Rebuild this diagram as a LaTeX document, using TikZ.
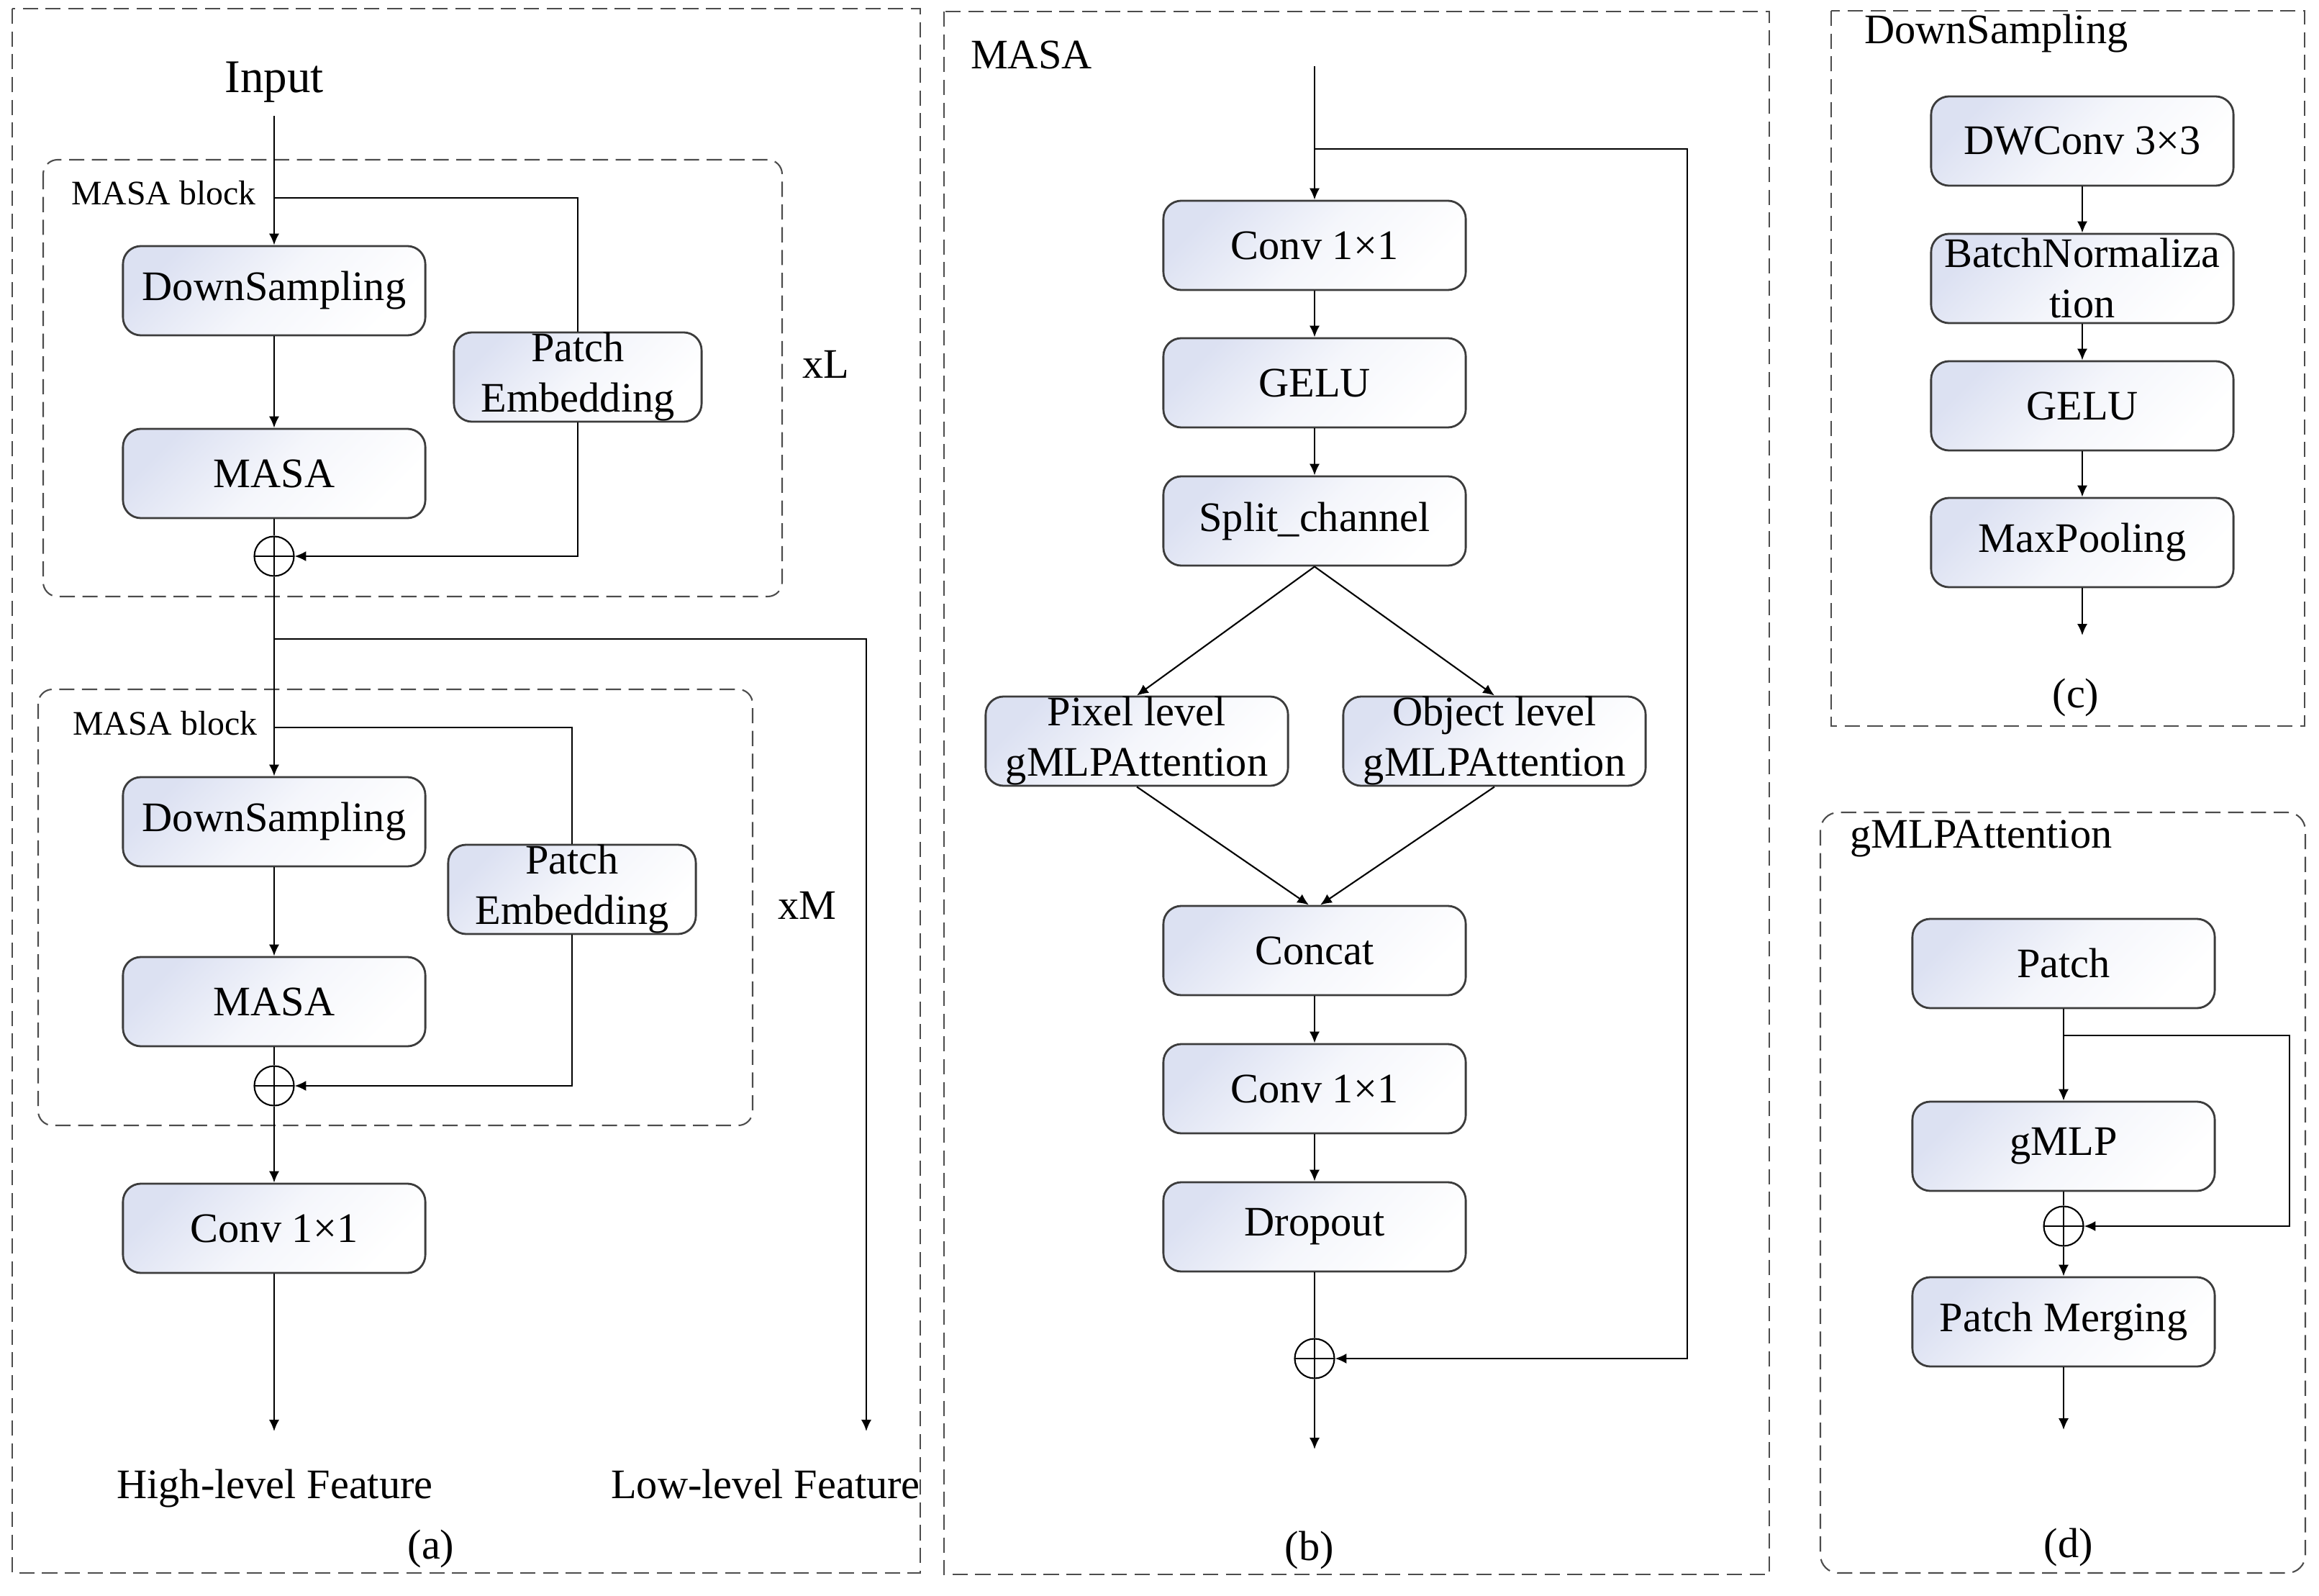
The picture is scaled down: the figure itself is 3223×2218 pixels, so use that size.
\documentclass[tikz,border=0pt]{standalone}
\usepackage{fontspec}
\setmainfont{Liberation Serif}
\usetikzlibrary{arrows.meta}
\definecolor{boxblue}{RGB}{220,225,242}
\definecolor{boxline}{RGB}{60,60,60}
\newcommand\boxtext{\fontsize{16.6}{19.9}\selectfont}
\newcommand\blocktext{\fontsize{13.6}{16}\selectfont}
\newcommand\inputtext{\fontsize{18.5}{22}\selectfont}

\begin{document}
\begin{tikzpicture}[x=0.01cm,y=-0.01cm,line width=0.6pt,font=\boxtext,
  box/.style={draw=boxline,line width=0.8pt,rounded corners=0.25cm,top color=boxblue,bottom color=white,middle color=boxblue!30!white,shading angle=45,minimum width=4.2cm,minimum height=1.24cm,inner sep=0pt,align=center},
  panel/.style={draw=black!70,dash pattern=on 6pt off 3pt,line width=0.6pt},
  title/.style={anchor=west,inner sep=0pt},
  arr/.style={-{Latex[length=4.5pt,width=4pt]}},
  sumnode/.style={circle,draw,minimum size=0.55cm,inner sep=0pt,path picture={\draw (path picture bounding box.north)--(path picture bounding box.south) (path picture bounding box.west)--(path picture bounding box.east);}}]
\useasboundingbox (0,0) rectangle (3223,2218);

% (a)
\draw[panel] (17,12) rectangle (1279,2186);
\draw[panel,rounded corners=0.2cm] (60,222) rectangle (1087,829);
\draw[panel,rounded corners=0.2cm] (53,958) rectangle (1046,1564);
\node[font=\inputtext] (input) at (381,114) {Input};
\coordinate (in) at (381,161);
\node[title,font=\blocktext] (blk1) at (98,268) {MASA block};
\node[box] (ds1) at (381,404) {DownSampling};
\node[box,minimum width=3.44cm] (pe1) at (803,524) {Patch\\Embedding};
\node[box] (masa1) at (381,658) {MASA};
\node[sumnode] (add1) at (381,773) {};
\node (xl) at (1148,506) {xL};
\coordinate (br1) at (381,275);
\draw[arr] (in) -- (ds1);
\draw (br1) -| (pe1.north);
\draw[arr] (ds1) -- (masa1);
\draw (masa1) -- (add1);
\draw[arr] (pe1.south) |- (add1.east);

\node[title,font=\blocktext] (blk2) at (100,1005) {MASA block};
\node[box] (ds2) at (381,1142) {DownSampling};
\node[box,minimum width=3.44cm] (pe2) at (795,1236) {Patch\\Embedding};
\node[box] (masa2) at (381,1392) {MASA};
\node[sumnode] (add2) at (381,1509) {};
\node (xm) at (1122,1258) {xM};
\coordinate (br2) at (381,1011);
\coordinate (lowsplit) at (381,888);
\coordinate (lowend) at (1204,1989);
\draw[arr] (add1) -- (ds2);
\draw[arr] (lowsplit) -| (lowend);
\draw (br2) -| (pe2.north);
\draw[arr] (ds2) -- (masa2);
\draw (masa2) -- (add2);
\draw[arr] (pe2.south) |- (add2.east);

\node[box] (conva) at (381,1707) {Conv 1×1};
\coordinate (highend) at (381,1989);
\draw[arr] (add2) -- (conva);
\draw[arr] (conva) -- (highend);
\node[anchor=base] (high) at (382,2082) {High-level Feature};
\node[anchor=base] (low) at (1064,2082) {Low-level Feature};
\node (capa) at (599,2152) {(a)};

% (b)
\draw[panel] (1312,16) rectangle (2459,2188);
\node[title] (titleb) at (1348,76) {MASA};
\coordinate (btop) at (1827,92);
\coordinate (bsplit) at (1827,207);
\coordinate (bloop) at (2345,207);
\node[box] (conv1) at (1827,341) {Conv 1×1};
\node[box] (gelub) at (1827,532) {GELU};
\node[box] (split) at (1827,724) {Split\_channel};
\node[box] (pixel) at (1580,1030) {Pixel level\\gMLPAttention};
\node[box] (object) at (2077,1030) {Object level\\gMLPAttention};
\node[box] (concat) at (1827,1321) {Concat};
\node[box] (conv2) at (1827,1513) {Conv 1×1};
\node[box] (drop) at (1827,1705) {Dropout};
\node[sumnode] (addb) at (1827,1888) {};
\coordinate (bend) at (1827,2014);
\draw[arr] (btop) -- (conv1);
\draw[arr] (bsplit) -- (bloop) |- (addb.east);
\draw[arr] (conv1) -- (gelub);
\draw[arr] (gelub) -- (split);
\draw[arr] (split.south) -- (pixel.north);
\draw[arr] (split.south) -- (object.north);
\draw[arr] (pixel.south) -- ([xshift=-0.08cm]concat.north);
\draw[arr] (object.south) -- ([xshift=0.08cm]concat.north);
\draw[arr] (concat) -- (conv2);
\draw[arr] (conv2) -- (drop);
\draw (drop) -- (addb);
\draw[arr] (addb) -- (bend);
\node (capb) at (1820,2154) {(b)};

% (c)
\draw[panel] (2545,15) rectangle (3203,1009);
\node[title] (titlec) at (2590,47) {DownSampling};
\node[box] (dw) at (2894,196) {DWConv 3×3};
\node[box] (bn) at (2894,387) {BatchNormaliza\\tion};
\node[box] (geluc) at (2894,564) {GELU};
\node[box] (mp) at (2894,754) {MaxPooling};
\coordinate (cend) at (2894,883);
\draw[arr] (dw) -- (bn);
\draw[arr] (bn) -- (geluc);
\draw[arr] (geluc) -- (mp);
\draw[arr] (mp) -- (cend);
\node (capc) at (2885,969) {(c)};

% (d)
\draw[panel,rounded corners=0.25cm] (2530,1129) rectangle (3204,2186);
\node[title] (titled) at (2570,1165) {gMLPAttention};
\node[box] (patch) at (2868,1339) {Patch};
\node[box] (gmlp) at (2868,1593) {gMLP};
\node[sumnode] (addd) at (2868,1704) {};
\node[box] (merge) at (2868,1837) {Patch Merging};
\coordinate (dsplit) at (2868,1439);
\coordinate (dloop) at (3182,1439);
\coordinate (dend) at (2868,1987);
\draw[arr] (patch) -- (gmlp);
\draw[arr] (dsplit) -- (dloop) |- (addd.east);
\draw (gmlp) -- (addd);
\draw[arr] (addd) -- (merge);
\draw[arr] (merge) -- (dend);
\node (capd) at (2875,2150) {(d)};
\end{tikzpicture}
\end{document}
